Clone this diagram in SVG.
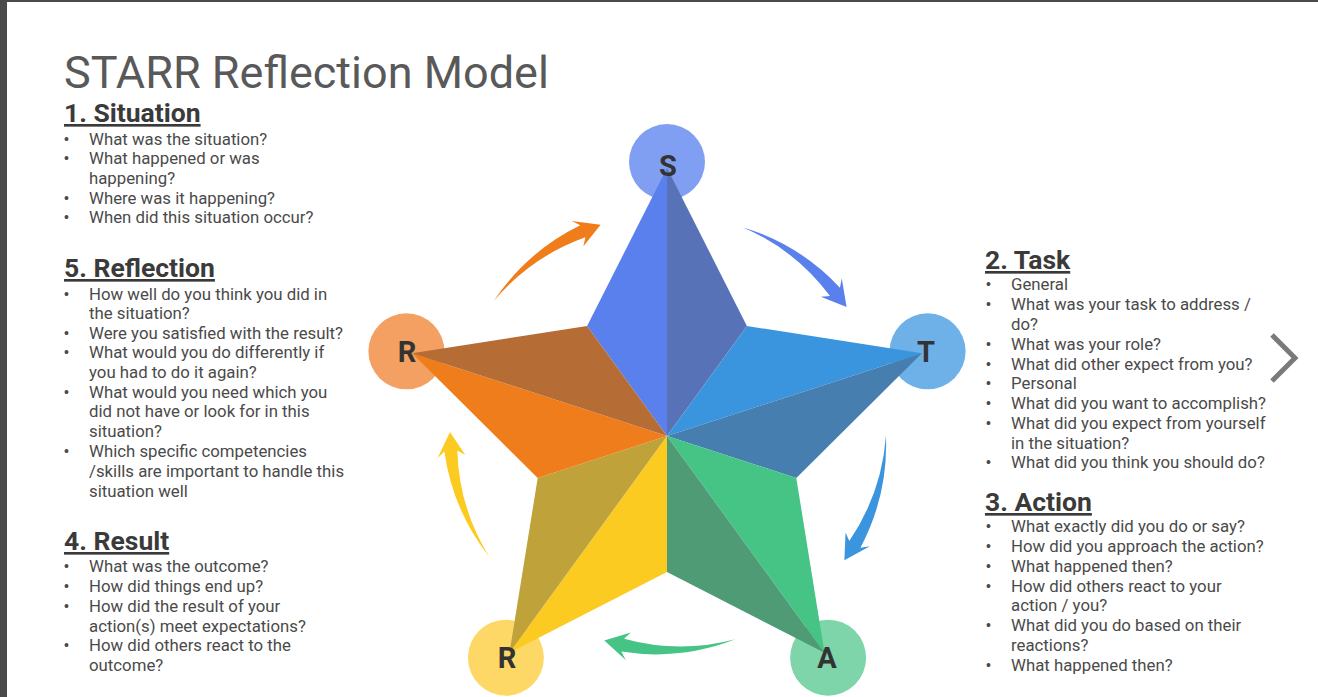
<svg xmlns="http://www.w3.org/2000/svg" xmlns:xlink="http://www.w3.org/1999/xlink" width="1318" height="697" viewBox="0 0 1318 697">
<style>
.title{font-family:Roboto,"Liberation Sans",sans-serif;font-size:45px;fill:#595959}
.head{font-family:Roboto,"Liberation Sans",sans-serif;font-size:26.5px;font-weight:bold;fill:#3a3a3a;text-decoration:underline}
.li{font-family:Roboto,"Liberation Sans",sans-serif;font-size:16.8px;fill:#4a4a4a}
.bul{font-family:"Liberation Sans",sans-serif;font-size:14px;fill:#4a4a4a}
.let{font-family:Roboto,"Liberation Sans",sans-serif;font-size:29px;font-weight:bold;fill:#333;text-anchor:middle}
</style>
<defs>
<path id="arrow" d="M218,0 A220,220 0 0 1 194.42,112.25 L203.88,110.71 L178.59,125.04 L179.28,97.35 L183.16,105.75 A214,214 0 0 0 218,0 Z"/>
</defs>
<rect width="1318" height="697" fill="#ffffff"/>
<rect x="0" y="0" width="7" height="697" fill="#4a4a4a"/>
<rect x="0" y="0" width="1318" height="2" fill="#4a4a4a"/>

<text class="title" x="64" y="88">STARR Reflection Model</text>

<g id="panel-situation">
<text class="head" x="64" y="122">1. Situation</text>
<text class="bul" x="64" y="144">•</text><text class="li" x="89" y="145">What was the situation?</text>
<text class="bul" x="64" y="163">•</text><text class="li" x="89" y="164">What happened or was</text>
<text class="li" x="89" y="184">happening?</text>
<text class="bul" x="64" y="203">•</text><text class="li" x="89" y="204">Where was it happening?</text>
<text class="bul" x="64" y="222">•</text><text class="li" x="89" y="223">When did this situation occur?</text>
</g>

<g id="panel-reflection">
<text class="head" x="64" y="277">5. Reflection</text>
<text class="bul" x="64" y="299">•</text><text class="li" x="89" y="300">How well do you think you did in</text>
<text class="li" x="89" y="319">the situation?</text>
<text class="bul" x="64" y="338">•</text><text class="li" x="89" y="339">Were you satisfied with the result?</text>
<text class="bul" x="64" y="357">•</text><text class="li" x="89" y="358">What would you do differently if</text>
<text class="li" x="89" y="378">you had to do it again?</text>
<text class="bul" x="64" y="397">•</text><text class="li" x="89" y="398">What would you need which you</text>
<text class="li" x="89" y="417">did not have or look for in this</text>
<text class="li" x="89" y="437">situation?</text>
<text class="bul" x="64" y="456">•</text><text class="li" x="89" y="457">Which specific competencies</text>
<text class="li" x="89" y="477">/skills are important to handle this</text>
<text class="li" x="89" y="497">situation well</text>
</g>

<g id="panel-result">
<text class="head" x="64" y="550">4. Result</text>
<text class="bul" x="64" y="571">•</text><text class="li" x="89" y="572">What was the outcome?</text>
<text class="bul" x="64" y="591">•</text><text class="li" x="89" y="592">How did things end up?</text>
<text class="bul" x="64" y="611">•</text><text class="li" x="89" y="612">How did the result of your</text>
<text class="li" x="89" y="632">action(s) meet expectations?</text>
<text class="bul" x="64" y="650">•</text><text class="li" x="89" y="651">How did others react to the</text>
<text class="li" x="89" y="671">outcome?</text>
</g>

<g id="panel-task">
<text class="head" x="985" y="269">2. Task</text>
<text class="bul" x="986" y="289">•</text><text class="li" x="1011" y="290">General</text>
<text class="bul" x="986" y="309">•</text><text class="li" x="1011" y="310">What was your task to address /</text>
<text class="li" x="1011" y="330">do?</text>
<text class="bul" x="986" y="349">•</text><text class="li" x="1011" y="350">What was your role?</text>
<text class="bul" x="986" y="369">•</text><text class="li" x="1011" y="370">What did other expect from you?</text>
<text class="bul" x="986" y="388">•</text><text class="li" x="1011" y="389">Personal</text>
<text class="bul" x="986" y="408">•</text><text class="li" x="1011" y="409">What did you want to accomplish?</text>
<text class="bul" x="986" y="428">•</text><text class="li" x="1011" y="429">What did you expect from yourself</text>
<text class="li" x="1011" y="449">in the situation?</text>
<text class="bul" x="986" y="467">•</text><text class="li" x="1011" y="468">What did you think you should do?</text>
</g>

<g id="panel-action">
<text class="head" x="985" y="511">3. Action</text>
<text class="bul" x="986" y="531">•</text><text class="li" x="1011" y="532">What exactly did you do or say?</text>
<text class="bul" x="986" y="551">•</text><text class="li" x="1011" y="552">How did you approach the action?</text>
<text class="bul" x="986" y="571">•</text><text class="li" x="1011" y="572">What happened then?</text>
<text class="bul" x="986" y="591">•</text><text class="li" x="1011" y="592">How did others react to your</text>
<text class="li" x="1011" y="611">action / you?</text>
<text class="bul" x="986" y="630">•</text><text class="li" x="1011" y="631">What did you do based on their</text>
<text class="li" x="1011" y="651">reactions?</text>
<text class="bul" x="986" y="670">•</text><text class="li" x="1011" y="671">What happened then?</text>
</g>

<path id="chevron" d="M1272,335 L1295,358 L1272,381" fill="none" stroke="#7a7a7a" stroke-width="5"/>

<g id="circles">
<circle cx="667" cy="162" r="38" fill="#819FF2"/>
<circle cx="927.6" cy="351.3" r="38" fill="#6DB1E8"/>
<circle cx="828.1" cy="657.7" r="38" fill="#7DD5A9"/>
<circle cx="505.9" cy="657.7" r="38" fill="#FDD867"/>
<circle cx="406.4" cy="351.3" r="38" fill="#F4A062"/>
</g>

<g id="node-S">
<polygon points="667,436 587.1,326 667,168" fill="#5A80EE"/>
<polygon points="667,436 667,168 746.9,326" fill="#5872B8"/>
<text class="let" x="668" y="176">S</text>
</g>
<g id="node-T">
<polygon points="667,436 746.9,326 921.9,353.2" fill="#3A95DE"/>
<polygon points="667,436 921.9,353.2 796.3,478" fill="#457EAF"/>
<text class="let" x="926" y="362">T</text>
</g>
<g id="node-A">
<polygon points="667,436 796.3,478 824.5,652.8" fill="#45C486"/>
<polygon points="667,436 824.5,652.8 667,572" fill="#4F9B76"/>
<text class="let" x="827" y="668">A</text>
</g>
<g id="node-R-result">
<polygon points="667,436 667,572 509.5,652.8" fill="#FCCB22"/>
<polygon points="667,436 509.5,652.8 537.7,478" fill="#BFA23A"/>
<text class="let" x="507" y="668">R</text>
</g>
<g id="node-R-reflection">
<polygon points="667,436 537.7,478 412.1,353.2" fill="#F07D1B"/>
<polygon points="667,436 412.1,353.2 587.1,326" fill="#B56D35"/>
<text class="let" x="407" y="362">R</text>
</g>

<g id="connectors">
<use xlink:href="#arrow" transform="translate(668,432) rotate(-70)" fill="#5A80EE"/>
<use xlink:href="#arrow" transform="translate(668,432) rotate(1)" fill="#3A95DE"/>
<use xlink:href="#arrow" transform="translate(668,432) rotate(72)" fill="#45C486"/>
<use xlink:href="#arrow" transform="translate(668,432) rotate(145)" fill="#FCCB22"/>
<use xlink:href="#arrow" transform="translate(668,432) rotate(217)" fill="#F07D1B"/>
</g>
</svg>
